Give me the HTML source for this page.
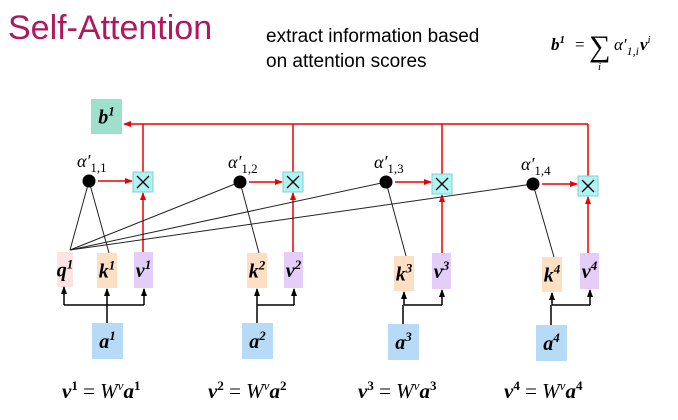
<!DOCTYPE html>
<html><head><meta charset="utf-8"><style>
html,body{margin:0;padding:0;background:#fff;width:678px;height:420px;overflow:hidden}
svg{display:block}
.m{font-family:"Liberation Serif","DejaVu Serif",serif}
.bi{font-weight:bold;font-style:italic}
</style></head><body>
<svg width="678" height="420" viewBox="0 0 678 420">
<defs>
<marker id="ar" markerWidth="8" markerHeight="8" refX="7" refY="4" orient="auto" markerUnits="userSpaceOnUse"><path d="M0,1 L8,4 L0,7z" fill="#e00"/></marker>
<marker id="ak" markerWidth="8" markerHeight="8" refX="7" refY="4" orient="auto" markerUnits="userSpaceOnUse"><path d="M0,1 L8,4 L0,7z" fill="#000"/></marker>
</defs>
<text x="8" y="39" font-family="Liberation Sans,sans-serif" font-size="34" fill="#b0185e">Self-Attention</text>
<text x="266" y="42" font-family="Liberation Sans,sans-serif" font-size="19" fill="#000">extract information based</text>
<text x="266" y="67" font-family="Liberation Sans,sans-serif" font-size="19" fill="#000">on attention scores</text>
<g class="m">
<text x="551" y="50" font-size="17" class="bi">b<tspan dy="-7" font-size="11">1</tspan></text>
<text x="575" y="50" font-size="17">=</text>
<text x="589" y="56" font-size="30">∑</text>
<text x="598" y="70" font-size="11" font-style="italic">i</text>
<text x="614" y="50" font-size="17" font-style="italic">α′<tspan dy="5" font-size="12">1,i</tspan></text>
<text x="640" y="50" font-size="17" class="bi">v<tspan dy="-7" font-size="11" font-weight="normal">i</tspan></text>
</g>
<g id="dg"></g>
<g class="m" font-size="21">
<text x="62" y="398"><tspan class="bi">v</tspan><tspan dy="-8" font-size="13" font-weight="bold">1</tspan><tspan dy="8"> = </tspan><tspan font-style="italic">W</tspan><tspan dy="-8" font-size="13" font-style="italic">v</tspan><tspan dy="8" class="bi">a</tspan><tspan dy="-8" font-size="13" font-weight="bold">1</tspan></text>
<text x="208" y="398"><tspan class="bi">v</tspan><tspan dy="-8" font-size="13" font-weight="bold">2</tspan><tspan dy="8"> = </tspan><tspan font-style="italic">W</tspan><tspan dy="-8" font-size="13" font-style="italic">v</tspan><tspan dy="8" class="bi">a</tspan><tspan dy="-8" font-size="13" font-weight="bold">2</tspan></text>
<text x="358" y="398"><tspan class="bi">v</tspan><tspan dy="-8" font-size="13" font-weight="bold">3</tspan><tspan dy="8"> = </tspan><tspan font-style="italic">W</tspan><tspan dy="-8" font-size="13" font-style="italic">v</tspan><tspan dy="8" class="bi">a</tspan><tspan dy="-8" font-size="13" font-weight="bold">3</tspan></text>
<text x="504" y="398"><tspan class="bi">v</tspan><tspan dy="-8" font-size="13" font-weight="bold">4</tspan><tspan dy="8"> = </tspan><tspan font-style="italic">W</tspan><tspan dy="-8" font-size="13" font-style="italic">v</tspan><tspan dy="8" class="bi">a</tspan><tspan dy="-8" font-size="13" font-weight="bold">4</tspan></text>
</g>
</svg>
<script>
const tokens=['1','2','3','4'];
const dotX=[89,240,386,533],dotY=[181,182,182,184];
const mulX=[133,283,432,578],mulY=[172,172,174,176];
const kX=[97,247,394,542],kY=[253,253,256,257];
const vX=[134,284,432,580],vY=[252,252,253,253];
const aX=[92,242,388,536],aY=[323,323,324,325];
const g=document.getElementById('dg');
const NS='http://www.w3.org/2000/svg';
function mk(t,a,p){const e=document.createElementNS(NS,t);for(const k in a)e.setAttribute(k,a[k]);(p||g).appendChild(e);return e;}
function box(x,y,w,h,fill,label,sup){
 const gg=mk('g',{});
 mk('rect',{x:x,y:y,width:w,height:h,fill:fill},gg);
 const t=mk('text',{x:x+w/2,y:y+h/2+7,'text-anchor':'middle','font-size':20,'class':'m bi'},gg);
 t.textContent=label;
 const s=mk('tspan',{dy:-8,'font-size':13},t);s.textContent=sup;
 return gg;
}
const bus=mk('path',{d:'M588,124 L124,124',stroke:'#e00','stroke-width':1.5,fill:'none','marker-end':'url(#ar)'});


const b=box(91,99,31,35,'#9fe0cc','b','1');


const q=box(57,252,16,35,'#fde3e3','q','1');


const qx=70,qy=250;
tokens.forEach((tk,i)=>{
 const grp=mk('g',{});
 
 
 const cx=mulX[i]+10, cy=mulY[i]+10;
 mk('line',{x1:qx,y1:qy,x2:dotX[i],y2:dotY[i],stroke:'#222','stroke-width':1},grp);
 mk('line',{x1:kX[i]+12,y1:kY[i],x2:dotX[i],y2:dotY[i],stroke:'#222','stroke-width':1},grp);
 mk('circle',{cx:dotX[i],cy:dotY[i],r:6.5,fill:'#000'},grp);
 const al=mk('text',{x:dotX[i]-12,y:dotY[i]-14,'font-size':18,'class':'m','font-style':'italic'},grp);
 al.textContent='α′';const st=mk('tspan',{dy:5,'font-size':13,'font-style':'normal'},al);st.textContent='1,'+tk;
 mk('line',{x1:dotX[i]+9,y1:dotY[i],x2:mulX[i]-1,y2:dotY[i],stroke:'#e00','stroke-width':1.5,'marker-end':'url(#ar)'},grp);
 mk('line',{x1:cx,y1:vY[i],x2:cx,y2:mulY[i]+21,stroke:'#e00','stroke-width':1.5,'marker-end':'url(#ar)'},grp);
 mk('line',{x1:cx,y1:mulY[i],x2:cx,y2:124,stroke:'#e00','stroke-width':1.5},grp);
 mk('rect',{x:mulX[i],y:mulY[i],width:20,height:20,fill:'#aef4f4',stroke:'#8cc',"stroke-width":1},grp);
 mk('path',{d:`M${mulX[i]+4},${mulY[i]+4}L${mulX[i]+16},${mulY[i]+16}M${mulX[i]+16},${mulY[i]+4}L${mulX[i]+4},${mulY[i]+16}`,stroke:'#000','stroke-width':1.3},grp);
 const kb=box(kX[i],kY[i],20,35,'#fde0c4','k',tk);grp.appendChild(kb);
 const vb=box(vX[i],vY[i],19,36,'#e4cdf7','v',tk);grp.appendChild(vb);
 const ab=box(aX[i],aY[i],31,36,'#b7dbf7','a',tk);grp.appendChild(ab);
 const ax=aX[i]+15, ly=305;
 let pts=[kX[i]+10,vX[i]+10]; if(i===0) pts=[64,kX[i]+10,vX[i]+10];
 mk('line',{x1:ax,y1:aY[i],x2:ax,y2:ly,stroke:'#000','stroke-width':1.5},grp);
 mk('line',{x1:pts[0],y1:ly,x2:pts[pts.length-1],y2:ly,stroke:'#000','stroke-width':1.5},grp);
 pts.forEach(px=>mk('line',{x1:px,y1:ly,x2:px,y2:(px===64?287:(px===kX[i]+10?kY[i]+36:vY[i]+37)),stroke:'#000','stroke-width':1.5,'marker-end':'url(#ak)'},grp));
});
</script>
</body></html>
